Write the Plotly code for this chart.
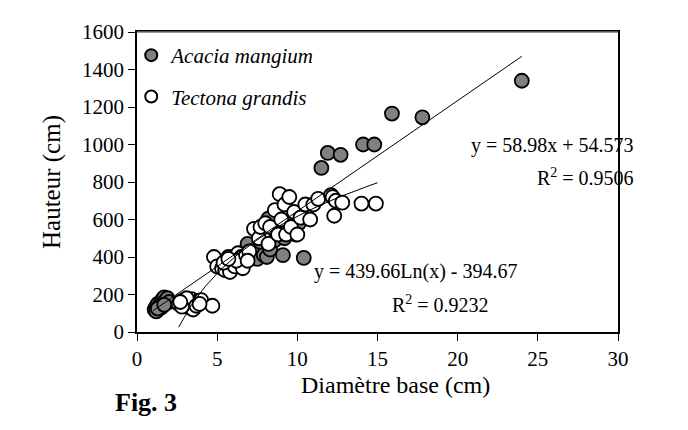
import numpy as np
import plotly.graph_objects as go

# Acacia mangium (filled grey markers)
acacia_x = [1.1, 1.2, 1.3, 1.2, 1.4, 1.5, 1.6, 1.7, 1.8, 1.9, 1.5, 1.3, 2.0, 1.7,
            5.5, 5.7, 6.0, 6.2, 6.5, 6.9, 7.3, 7.5, 7.7, 7.9, 8.1, 8.2, 8.3, 8.6, 8.8,
            9.0, 9.1, 9.2, 9.4, 9.6, 9.9, 10.1, 10.4,
            11.5, 11.9, 12.7, 14.1, 14.8, 15.9, 17.8, 24.0]
acacia_y = [120, 135, 150, 110, 140, 160, 175, 185, 170, 180, 130, 125, 160, 145,
            360, 400, 390, 350, 420, 470, 420, 390, 480, 410, 400, 605, 440, 490, 530,
            520, 410, 500, 550, 600, 520, 580, 395,
            875, 955, 945, 1000, 1000, 1165, 1145, 1340]

# Tectona grandis (open markers)
tectona_x = [2.6, 2.9, 3.0, 3.2, 3.4, 3.6, 3.8, 4.0, 3.3, 3.5, 3.1, 2.8, 3.7, 4.7, 3.9, 2.7,
             4.8, 5.0, 5.3, 5.5, 5.6, 5.8, 5.9, 6.0, 6.1, 6.3, 6.4, 6.5, 6.6, 6.2, 5.4, 5.7,
             6.8, 7.0, 6.9,
             7.3, 7.6, 7.7, 8.0, 8.2, 8.3, 8.6, 8.8, 8.9, 9.0, 9.2, 9.3, 9.5, 9.6, 9.8,
             10.0, 10.2, 10.5, 10.8, 11.0, 11.3, 12.1, 12.2, 12.3, 12.4, 12.8, 14.0, 14.9]
tectona_y = [150, 170, 140, 160, 175, 150, 165, 170, 130, 120, 180, 135, 140, 140, 150, 160,
             400, 350, 340, 330, 360, 320, 380, 400, 350, 420, 370, 400, 340, 380, 370, 390,
             410, 430, 380,
             550, 500, 560, 580, 470, 560, 650, 520, 735, 600, 680, 520, 720, 560, 640,
             520, 610, 680, 600, 680, 710, 730, 720, 620, 700, 690, 685, 685]

# trend lines
lin_a, lin_b = 58.98, 54.573
log_a, log_b = 439.66, -394.67
lin_x = np.array([1.0, 24.0])
log_x = np.linspace(2.6, 15.0, 60)

FONT = "Liberation Serif, Times New Roman, serif"

fig = go.Figure()

fig.add_trace(go.Scatter(
    x=acacia_x, y=acacia_y, mode="markers", name="Acacia mangium", legendgroup="a",
    marker=dict(size=14, color="#808080", line=dict(color="black", width=1.8))
))
fig.add_trace(go.Scatter(
    x=tectona_x, y=tectona_y, mode="markers", name="Tectona grandis", legendgroup="t",
    marker=dict(size=14, color="white", line=dict(color="black", width=1.8))
))
fig.add_trace(go.Scatter(
    x=lin_x, y=lin_a * lin_x + lin_b, mode="lines", showlegend=False,
    line=dict(color="black", width=1)
))
fig.add_trace(go.Scatter(
    x=log_x, y=log_a * np.log(log_x) + log_b, mode="lines", showlegend=False,
    line=dict(color="black", width=1)
))

# regression equations
fig.add_annotation(x=1.037, y=995, xref="paper", text="y = 58.98x + 54.573",
                   showarrow=False, xanchor="right", font=dict(size=20))
fig.add_annotation(x=1.037, y=829, xref="paper", text="R<sup>2</sup> = 0.9506",
                   showarrow=False, xanchor="right", font=dict(size=20))
fig.add_annotation(x=10.9, y=323, text="y = 439.66Ln(x) - 394.67",
                   showarrow=False, xanchor="left", font=dict(size=20))
fig.add_annotation(x=15.8, y=151, text="R<sup>2</sup> = 0.9232",
                   showarrow=False, xanchor="left", font=dict(size=20))

# x-axis title sits right of centre in the original
fig.add_annotation(x=0.538, y=-0.175, xref="paper", yref="paper", text="Diamètre base (cm)",
                   showarrow=False, xanchor="center", yanchor="middle", font=dict(size=24))
fig.add_annotation(x=-0.05, y=-0.235, xref="paper", yref="paper", text="<b>Fig. 3</b>",
                   showarrow=False, xanchor="left", yanchor="middle", font=dict(size=26))

# plot-area top edge is grey in the original
fig.add_shape(type="line", xref="paper", yref="paper", x0=0, x1=1, y0=1, y1=1,
              line=dict(color="#7a7a7a", width=1.6), layer="above")

fig.update_layout(
    width=688, height=430,
    margin=dict(l=129, r=78, t=17, b=106),
    paper_bgcolor="white", plot_bgcolor="white",
    font=dict(family=FONT, size=21, color="black"),
    legend=dict(x=-0.012, y=0.99, xanchor="left", yanchor="top",
                font=dict(size=21, style="italic"), bgcolor="rgba(0,0,0,0)",
                itemsizing="constant", tracegroupgap=11),
)
fig.update_xaxes(
    range=[0, 30], tickvals=[0, 5, 10, 15, 20, 25, 30],
    showgrid=False, zeroline=False,
    showline=True, linecolor="black", linewidth=1.5, mirror=True,
    ticks="outside", ticklen=7, tickcolor="black",
)
fig.update_yaxes(
    range=[0, 1600], tickvals=list(range(0, 1601, 200)),
    showgrid=False, zeroline=False,
    showline=True, linecolor="black", linewidth=1.5, mirror=True,
    ticks="outside", ticklen=7, tickcolor="black",
    title=dict(text="Hauteur (cm)", font=dict(size=25), standoff=14),
)

fig.write_html("out.html")
